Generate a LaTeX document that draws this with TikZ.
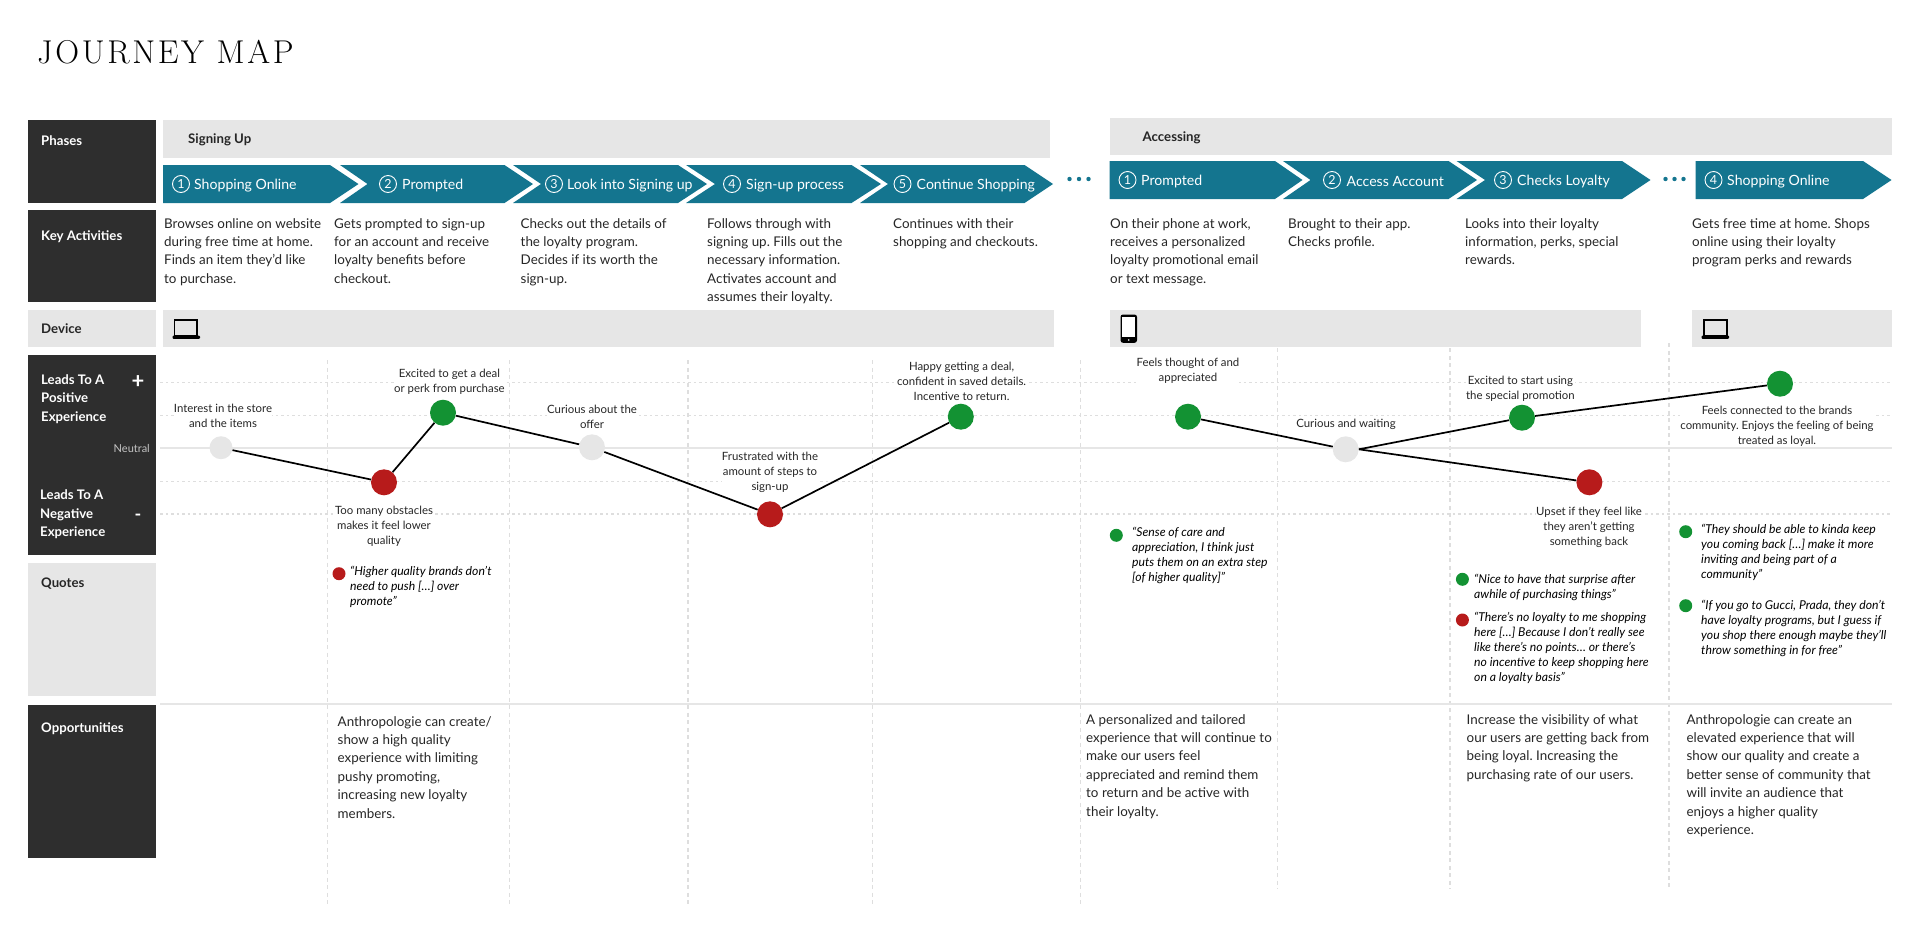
\documentclass[tikz,border=0pt]{standalone}
\usepackage{fontspec}
\setmainfont{Lato}
\newfontfamily\titlefont[LetterSpace=8]{Latin Modern Roman}
\usepackage{tikz}
\frenchspacing
\definecolor{darkbox}{HTML}{2E2E2E}
\definecolor{lightbox}{HTML}{E6E6E6}
\definecolor{teal}{HTML}{14758F}
\definecolor{moodred}{HTML}{B71B1B}
\definecolor{moodgreen}{HTML}{139233}
\definecolor{griddot}{HTML}{DEDEDE}
\definecolor{inktext}{HTML}{262626}
\tikzstyle{headbox} = [fill=darkbox]
\tikzstyle{greybox} = [fill=lightbox]
\tikzstyle{stepbox} = [fill=teal]
\tikzstyle{hline} = [griddot, line width=1.1, dash pattern=on 2.5pt off 3pt]
\tikzstyle{vline} = [griddot, line width=1.1, dash pattern=on 4pt off 3.5pt]
\tikzstyle{solidline} = [lightbox, line width=2]
\tikzstyle{headtext} = [anchor=west, inner sep=0, text=white, align=left, font=\fontsize{13.2}{18.4}\selectfont\bfseries]
\tikzstyle{headdark} = [headtext, text=inktext]
\tikzstyle{steptext} = [anchor=west, inner sep=0, text=white, font=\fontsize{14.1}{18}\selectfont]
\tikzstyle{stepnum} = [circle, draw=white, line width=0.9, text=white, inner sep=0, minimum size=17, font=\fontsize{12.5}{14}\selectfont]
\tikzstyle{bodytext} = [anchor=north west, inner sep=0, text=inktext, align=left, font=\fontsize{13.4}{18.4}\selectfont]
\tikzstyle{moodtext} = [inner sep=0, fill=white, text=inktext, align=center, font=\fontsize{11.4}{15}\selectfont]
\tikzstyle{quotetext} = [anchor=north west, inner sep=0, text=black, align=left, font=\fontsize{12.2}{15}\selectfont\itshape]
\tikzstyle{mood} = [circle, inner sep=0, minimum size=26]
\tikzstyle{bullet} = [circle, inner sep=0, minimum size=13]
\tikzstyle{link} = [black, line width=1.7]

\begin{document}
\begin{tikzpicture}[x=1pt,y=-1pt]
	\useasboundingbox (0,0) rectangle (1920,924);

	\node[anchor=west, inner sep=0, text=black, font=\fontsize{33}{36}\selectfont\titlefont] (title) at (37,52) {JOURNEY MAP};

	\fill[headbox] (28,120) rectangle (155.5,203);
	\fill[headbox] (28,210) rectangle (155.5,302);
	\fill[greybox] (28,309.5) rectangle (155.5,347);
	\fill[headbox] (28,355) rectangle (155.5,555);
	\fill[greybox] (28,563) rectangle (155.5,696);
	\fill[headbox] (28,705) rectangle (155.5,858);

	\fill[greybox] (163,120) rectangle (1049.5,158);
	\fill[greybox] (1109.5,117.5) rectangle (1891.5,154.5);
	\fill[greybox] (163,309.5) rectangle (1053.5,347);
	\fill[greybox] (1109.5,309.5) rectangle (1641,347);
	\fill[greybox] (1692,309.5) rectangle (1891.5,347);

	\fill[stepbox] (163,165) -- (330,165) -- (358.5,184) -- (330,203) -- (163,203) -- cycle;
	\fill[stepbox] (340,165) -- (504.5,165) -- (533,184) -- (504.5,203) -- (340,203) -- (367.5,184) -- cycle;
	\fill[stepbox] (513,165) -- (678,165) -- (707,184) -- (678,203) -- (513,203) -- (541,184) -- cycle;
	\fill[stepbox] (686,165) -- (851.5,165) -- (881,184) -- (851.5,203) -- (686,203) -- (715,184) -- cycle;
	\fill[stepbox] (860,165) -- (1024.5,165) -- (1053,184) -- (1024.5,203) -- (860,203) -- (888,184) -- cycle;
	\fill[stepbox] (1109.5,161) -- (1275,161) -- (1302.5,180) -- (1275,199) -- (1109.5,199) -- cycle;
	\fill[stepbox] (1283,161) -- (1448.5,161) -- (1477,180) -- (1448.5,199) -- (1283,199) -- (1310.5,180) -- cycle;
	\fill[stepbox] (1456.5,161) -- (1622,161) -- (1650.5,180) -- (1622,199) -- (1456.5,199) -- (1485,180) -- cycle;
	\fill[stepbox] (1695.5,161) -- (1863,161) -- (1891.5,180) -- (1863,199) -- (1695.5,199) -- cycle;

	\fill[teal] (1069.5,179) circle (2.2);
	\fill[teal] (1079,179) circle (2.2);
	\fill[teal] (1088.5,179) circle (2.2);
	\fill[teal] (1665.5,179) circle (2.2);
	\fill[teal] (1674.5,179) circle (2.2);
	\fill[teal] (1683.5,179) circle (2.2);

	\node[headtext] (phases) at (41,140.5) {Phases};
	\node[headtext] (activities) at (41,236.5) {Key Activities};
	\node[headdark] (device) at (41,329) {Device};
	\node[headtext] (positive) at (41,399) {Leads To A\\Positive\\Experience};
	\node[headtext] (negative) at (40,514.5) {Leads To A\\Negative\\Experience};
	\node[text=white, inner sep=0, font=\fontsize{22}{22}\selectfont\bfseries] (plus) at (138,382) {+};
	\node[text=white, inner sep=0, font=\fontsize{18}{18}\selectfont\bfseries] (minus) at (138,517) {-};
	\node[anchor=east, inner sep=0, text=lightbox!85!black, font=\fontsize{11}{14}\selectfont] (neutral) at (150,448) {Neutral};
	\node[headdark] (quotes) at (41,584) {Quotes};
	\node[headtext] (opportunities) at (41,729) {Opportunities};
	\node[headdark] (signing) at (188,140) {Signing Up};
	\node[headdark] (accessing) at (1142.5,138) {Accessing};

	\node[stepnum] (num1) at (181,184) {1};
	\node[steptext] (step1) at (194,185.5) {Shopping Online};
	\node[stepnum] (num2) at (388,184) {2};
	\node[steptext] (step2) at (402,185.5) {Prompted};
	\node[stepnum] (num3) at (554,184) {3};
	\node[steptext] (step3) at (567,185.5) {Look into Signing up};
	\node[stepnum] (num4) at (732,184) {4};
	\node[steptext] (step4) at (746,185.5) {Sign-up process};
	\node[stepnum] (num5) at (902.5,184) {5};
	\node[steptext] (step5) at (916.5,185.5) {Continue Shopping};
	\node[stepnum] (num6) at (1127.5,180) {1};
	\node[steptext] (step6) at (1141,181.5) {Prompted};
	\node[stepnum] (num7) at (1332,180) {2};
	\node[steptext] (step7) at (1346.5,181.5) {Access Account};
	\node[stepnum] (num8) at (1503,180) {3};
	\node[steptext] (step8) at (1517,181.5) {Checks Loyalty};
	\node[stepnum] (num9) at (1713.5,180) {4};
	\node[steptext] (step9) at (1727,181.5) {Shopping Online};

	\node[bodytext] (key1) at (164,218) {Browses online on website\\during free time at home.\\Finds an item they’d like\\to purchase.};
	\node[bodytext] (key2) at (334,218) {Gets prompted to sign-up\\for an account and receive\\loyalty benefits before\\checkout.};
	\node[bodytext] (key3) at (520.5,218) {Checks out the details of\\the loyalty program.\\Decides if its worth the\\sign-up.};
	\node[bodytext] (key4) at (707,218) {Follows through with\\signing up. Fills out the\\necessary information.\\Activates account and\\assumes their loyalty.};
	\node[bodytext] (key5) at (893,218) {Continues with their\\shopping and checkouts.};
	\node[bodytext] (key6) at (1110,218) {On their phone at work,\\receives a personalized\\loyalty promotional email\\or text message.};
	\node[bodytext] (key7) at (1288,218) {Brought to their app.\\Checks profile.};
	\node[bodytext] (key8) at (1465,218) {Looks into their loyalty\\information, perks, special\\rewards.};
	\node[bodytext] (key9) at (1692,218) {Gets free time at home. Shops\\online using their loyalty\\program perks and rewards};

	\draw[black, line width=1.4] (174.5,319.8) rectangle (197,335.5);
	\fill[black, rounded corners=1] (172.5,335.5) rectangle (200,338.8);
	\draw[black, line width=1.4] (1703.8,319.8) rectangle (1727,335.5);
	\fill[black, rounded corners=1] (1701.5,335.5) rectangle (1729,338.8);
	\fill[black, rounded corners=2.5] (1120.5,314.5) rectangle (1137,342.8);
	\fill[white] (1122.3,317) rectangle (1135.2,337.3);
	\fill[white] (1128.7,340) circle (0.9);

	\draw[hline] (160,382.7) -- (1891.5,382.7);
	\draw[hline] (160,415.7) -- (1891.5,415.7);
	\draw[hline] (160,481.3) -- (1891.5,481.3);
	\draw[hline] (160,514) -- (1891.5,514);
	\draw[vline] (327.5,360) -- (327.5,905);
	\draw[vline] (509.5,360) -- (509.5,905);
	\draw[vline] (688,360) -- (688,905);
	\draw[vline] (872.6,360) -- (872.6,905);
	\draw[vline] (1080.3,360) -- (1080.3,905);
	\draw[vline] (1277.5,348) -- (1277.5,889);
	\draw[vline] (1450,348) -- (1450,889);
	\draw[vline] (1669,343) -- (1669,889);
	\draw[solidline] (160,448.3) -- (1891.5,448.3);
	\draw[solidline] (160,703.7) -- (1891.5,703.7);

	\node[moodtext] (say1) at (223,415.5) {Interest in the store\\and the items};
	\node[moodtext] (say2) at (449.4,381.5) {Excited to get a deal\\or perk from purchase};
	\node[moodtext] (say3) at (592,417.2) {Curious about the\\offer};
	\node[moodtext] (say4) at (384,526.7) {Too many obstacles\\makes it feel lower\\quality};
	\node[moodtext] (say5) at (770,472.7) {Frustrated with the\\amount of steps to\\sign-up};
	\node[moodtext] (say6) at (961.6,381) {Happy getting a deal,\\confident in saved details.\\Incentive to return.};
	\node[moodtext] (say7) at (1188,370.5) {Feels thought of and\\appreciated};
	\node[moodtext] (say8) at (1346,424) {Curious and waiting};
	\node[moodtext] (say9) at (1520.4,388.5) {Excited to start using\\the special promotion};
	\node[moodtext] (say10) at (1589,527.4) {Upset if they feel like\\they aren’t getting\\something back};
	\node[moodtext] (say11) at (1777,426.6) {Feels connected to the brands\\community. Enjoys the feeling of being\\treated as loyal.};

	\node[mood, fill=lightbox, minimum size=23] (calm1) at (221,447.7) {};
	\node[mood, fill=moodred] (low1) at (384,482.3) {};
	\node[mood, fill=moodgreen] (high1) at (443,412.7) {};
	\node[mood, fill=lightbox] (calm2) at (592,447.3) {};
	\node[mood, fill=moodred] (low2) at (770,514.3) {};
	\node[mood, fill=moodgreen] (high2) at (960.8,416.7) {};
	\node[mood, fill=moodgreen] (high3) at (1188,416.7) {};
	\node[mood, fill=lightbox] (calm3) at (1345.7,449.3) {};
	\node[mood, fill=moodgreen] (high4) at (1522,417.7) {};
	\node[mood, fill=moodgreen] (high5) at (1780,383.7) {};
	\node[mood, fill=moodred] (low3) at (1589.4,482.3) {};

	\draw[link] (calm1) -- (low1);
	\draw[link] (low1) -- (high1);
	\draw[link] (high1) -- (calm2);
	\draw[link] (calm2) -- (low2);
	\draw[link] (low2) -- (high2);
	\draw[link] (high3) -- (calm3);
	\draw[link] (calm3.east) -- (high4);
	\draw[link] (high4) -- (high5);
	\draw[link] (calm3.east) -- (low3);

	\node[bullet, fill=moodred] (dot1) at (339,573.7) {};
	\node[bullet, fill=moodgreen] (dot2) at (1116.3,535.3) {};
	\node[bullet, fill=moodgreen] (dot3) at (1462.4,579.3) {};
	\node[bullet, fill=moodred] (dot4) at (1462.4,620) {};
	\node[bullet, fill=moodgreen] (dot5) at (1685.7,531.7) {};
	\node[bullet, fill=moodgreen] (dot6) at (1685.7,605.7) {};

	\node[quotetext] (quote1) at (350,566) {“Higher quality brands don’t\\need to push […] over\\promote”};
	\node[quotetext] (quote2) at (1132,527) {“Sense of care and\\appreciation, I think just\\puts them on an extra step\\{[}of higher quality{]}”};
	\node[quotetext] (quote3) at (1474,574) {“Nice to have that surprise after\\awhile of purchasing things”};
	\node[quotetext] (quote4) at (1474,612) {“There’s no loyalty to me shopping\\here […] Because I don’t really see\\like there’s no points… or there’s\\no incentive to keep shopping here\\on a loyalty basis”};
	\node[quotetext] (quote5) at (1701,523.5) {“They should be able to kinda keep\\you coming back […] make it more\\inviting and being part of a\\community”};
	\node[quotetext] (quote6) at (1701,600) {“If you go to Gucci, Prada, they don’t\\have loyalty programs, but I guess if\\you shop there enough maybe they’ll\\throw something in for free”};

	\node[bodytext] (idea1) at (337.5,716) {Anthropologie can create/\\show a high quality\\experience with limiting\\pushy promoting,\\increasing new loyalty\\members.};
	\node[bodytext] (idea2) at (1086,714) {A personalized and tailored\\experience that will continue to\\make our users feel\\appreciated and remind them\\to return and be active with\\their loyalty.};
	\node[bodytext] (idea3) at (1466.5,714) {Increase the visibility of what\\our users are getting back from\\being loyal. Increasing the\\purchasing rate of our users.};
	\node[bodytext] (idea4) at (1686.3,714) {Anthropologie can create an\\elevated experience that will\\show our quality and create a\\better sense of community that\\will invite an audience that\\enjoys a higher quality\\experience.};
\end{tikzpicture}
\end{document}
